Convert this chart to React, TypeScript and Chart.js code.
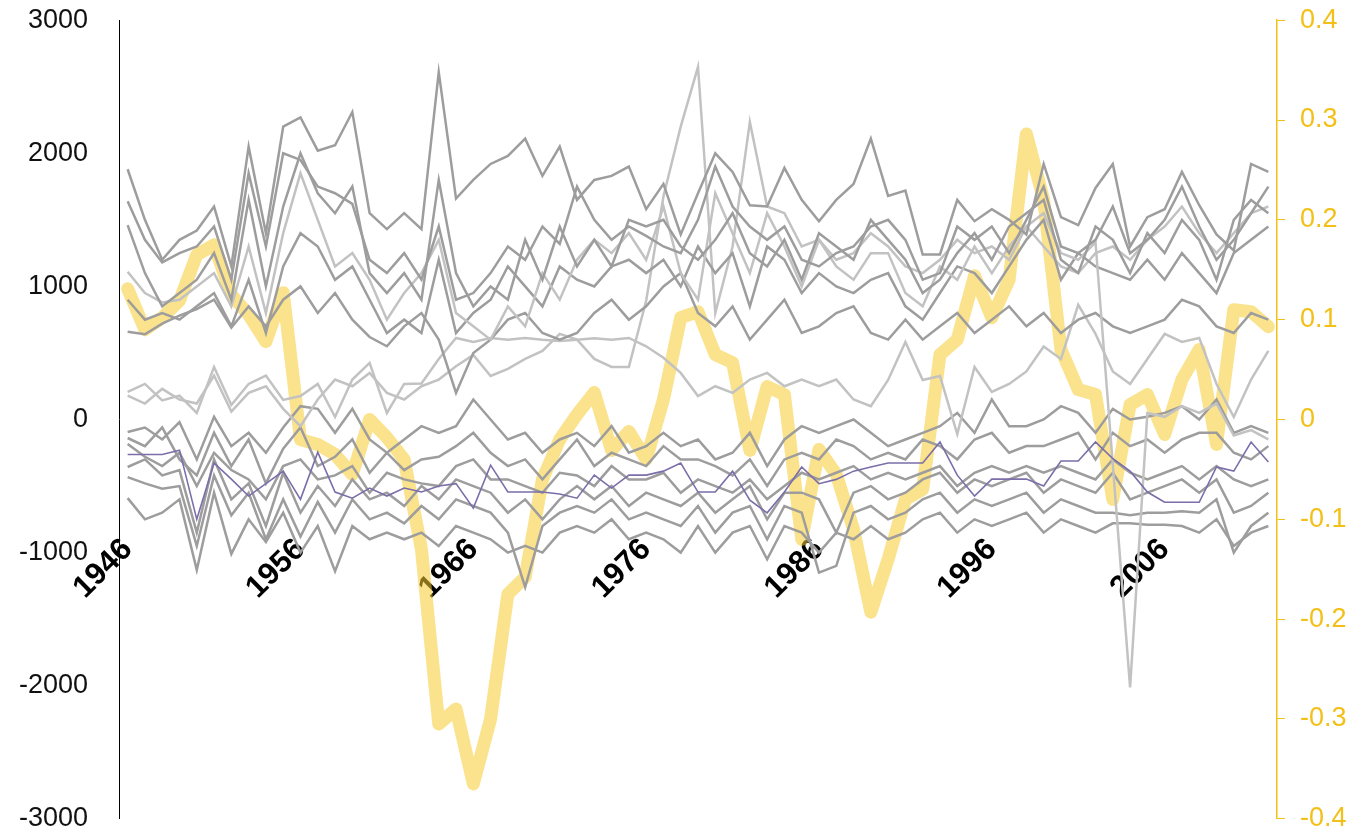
import { useEffect, useRef } from 'react';
import { Chart, registerables } from 'chart.js';

Chart.register(...registerables);

// Years 1946–2012, one point per year
const years: string[] = Array.from({ length: 67 }, (_, i) => String(1946 + i));
const labelledYears = ['1946', '1956', '1966', '1976', '1986', '1996', '2006'];

// Left axis (volumes) and right axis (index) ranges
const leftMin = -3000;
const leftMax = 3000;
const leftStep = 1000;
const rightMin = -0.4;
const rightMax = 0.4;
const rightStep = 0.1;

// Index series plotted on the right axis (thick yellow band)
const indexSeries = [
  0.131, 0.09, 0.102, 0.119, 0.165, 0.175, 0.125, 0.105, 0.078, 0.127,
  -0.02, -0.025, -0.035, -0.055, 0.0, -0.018, -0.04, -0.13, -0.305, -0.29,
  -0.365, -0.3, -0.175, -0.158, -0.06, -0.02, 0.005, 0.027, -0.031, -0.012,
  -0.04, 0.02, 0.102, 0.108, 0.065, 0.057, -0.031, 0.033, 0.025, -0.12,
  -0.03, -0.055, -0.11, -0.193, -0.14, -0.08, -0.07, 0.065, 0.08, 0.144,
  0.102, 0.14, 0.286, 0.22, 0.07, 0.03, 0.025, -0.08, 0.015, 0.025,
  -0.015, 0.04, 0.07, -0.025, 0.11, 0.108, 0.093,
];

// Highlighted series (purple)
const purpleSeries = [
  -263, -263, -263, -230, -750, -327, -448, -575, -482, -388,
  -600, -245, -545, -591, -515, -575, -515, -545, -500, -482,
  -666, -343, -545, -545, -545, -560, -591, -418, -515, -418,
  -418, -388, -327, -545, -545, -388, -606, -701, -545, -357,
  -482, -450, -388, -357, -327, -327, -327, -169, -418, -575,
  -448, -448, -448, -500, -312, -312, -169, -294, -388, -545,
  -622, -622, -622, -357, -388, -169, -320,
];

// Upper group of gray series
const upper1 = [
  1880, 1500, 1200, 1350, 1420, 1600, 1150, 2050, 1400, 2200,
  2270, 2020, 2060, 2310, 1550, 1430, 1550, 1430, 2610, 1660,
  1800, 1920, 1980, 2110, 1830, 2050, 1650, 1800, 1830, 1900,
  1580, 1770, 1390, 1700, 2000, 1860, 1610, 1600, 1890, 1650,
  1490, 1650, 1770, 2110, 1680, 1720, 1240, 1240, 1650, 1490,
  1580, 1500, 1390, 1920, 1520, 1460, 1740, 1920, 1300, 1520,
  1580, 1860, 1610, 1390, 1270, 1920, 1860,
];
const upper2 = [
  1640, 1350, 1180, 1250, 1300, 1450, 1050, 1850, 1300, 2000,
  1950, 1750, 1700, 1620, 1200, 1100, 1250, 1050, 1450, 900,
  950, 1100, 1300, 1200, 1450, 1320, 1750, 1500, 1350, 1450,
  1380, 1300, 1250, 1500, 1900, 1600, 1450, 1350, 1450, 1200,
  1150, 1250, 1300, 1450, 1500, 1350, 1050, 1100, 1450, 1350,
  1450, 1250, 1500, 1750, 1300, 1250, 1350, 1600, 1250, 1350,
  1500, 1750, 1450, 1200, 1350, 1550, 1750,
];
const upper3 = [
  1460, 1100, 850, 950, 1050, 1250, 900, 1650, 1000, 1600,
  2000, 1700, 1550, 1750, 1100, 950, 1100, 900, 1800, 1100,
  850, 1000, 900, 1350, 1050, 1450, 1150, 1350, 1150, 1500,
  1450, 1500, 1300, 1200, 1350, 1550, 1250, 1150, 1350, 1050,
  1400, 1300, 1200, 1500, 1350, 1200, 950, 1050, 1250, 1400,
  1200, 1450, 1550, 1650, 1200, 1100, 1450, 1350, 1100, 1400,
  1250, 1500, 1350, 1050, 1500, 1650, 1550,
];
const upper4 = [
  1110, 950, 880, 900, 1000, 1100, 850, 1300, 800, 1400,
  1850, 1500, 1150, 1250, 1050, 750, 950, 1100, 1350, 800,
  700, 600, 850, 700, 1100, 900, 1200, 1350, 1250, 1400,
  1200, 1600, 1100, 900, 1700, 1400, 1100, 1550, 1300, 1000,
  1350, 1150, 1050, 1250, 1250, 950, 850, 1150, 1050, 1300,
  1100, 1300, 1450, 1550, 1250, 1200, 1330, -340, -2013, 49,
  20, 100, 50, 120, -120, -80, -150,
];
const upper5 = [
  900, 750, 800, 750, 850, 950, 700, 1050, 650, 1150,
  1400, 1300, 1050, 1150, 900, 650, 750, 650, 1200, 650,
  800, 900, 1150, 1000, 850, 1150, 1050, 1000, 1150, 1200,
  1100, 1200, 1000, 1300, 1100, 1250, 850, 1300, 1200, 950,
  1100, 1000, 950, 1050, 1100, 850, 750, 950, 1150, 1100,
  950, 1150, 1350, 1500, 1050, 1250, 1150, 1100, 1050, 1200,
  1050, 1250, 1100, 950, 1250, 1350, 1450,
];
const upper6 = [
  660, 640, 720, 780, 830, 900, 690, 850, 700, 900,
  1000, 800, 950, 750, 620, 550, 700, 800, 600, 200,
  500, 600, 750, 800, 650, 600, 650, 800, 900, 750,
  850, 1000, 1100, 800, 700, 850, 600, 750, 900, 650,
  700, 800, 850, 650, 600, 750, 600, 700, 800, 650,
  750, 850, 700, 800, 650, 750, 800, 700, 650, 700,
  750, 900, 850, 700, 650, 800, 750,
];

// Middle light-gray series
const middle1 = [
  207, 267, 143, 180, 49, 395, 109, 267, 330, 147,
  176, 267, 19, 300, 425, 49, 267, 270, 455, 613,
  583, 613, 600, 613, 600, 590, 600, 610, 600, 613,
  550, 464, 350, 176, 250, 200, 300, 350, 250, 300,
  250, 300, 150, 100, 297, 583, 297, 327, -110, 395,
  207, 267, 361, 549, 455, 862, 643, 361, 267, 455,
  643, 583, 613, 267, 19, 300, 515,
];
const middle2 = [
  180, 120, 230, 150, 120, 330, 60, 200, 250, 80,
  -50, 150, 300, 250, 350, 200, 150, 250, 300, 400,
  485, 327, 380, 455, 515, 643, 600, 455, 395, 395,
  892, 1675, 2200, 2650, 800, 1300, 2236, 1600, 1550, 1300,
  1350, 1200, 1250, 1400, 1300, 1150, 1100, 1200, 1350, 1250,
  1300, 1200, 1450, 1300, 1150, 1100, 1250, 1300, 1200, 1350,
  1450, 1600, 1400, 1250, 1400, 1550, 1600,
];

// Lower group of gray series
const lower1 = [
  -94, -60, -150, -20, -300, 20, -200, -100, -250, -60,
  100, 80, -100, 80, -150, -250, -150, -50, -100, -50,
  150, 0, -150, -100, -250, -150, -100, -200, -50, -250,
  -200, -100, -200, -150, -300, -250, -100, -350, -150, -50,
  -100, -50, 0, -100, -200, -150, -100, -50, 50, -100,
  150, -50, -50, 0, 100, 50, -100, 80, 0, 20,
  50, 100, 0, 150, -100, -50, -100,
];
const lower2 = [
  -139, -200, -60, -300, -420, -100, -350, -150, -480, -220,
  -60, -350, -280, -150, -400, -250, -380, -300, -280, -200,
  -100, -250, -350, -300, -450, -300, -150, -350, -250, -300,
  -350, -200, -300, -300, -350, -420, -300, -500, -300, -250,
  -300, -150, -200, -300, -250, -300, -150, -200, -300, -150,
  -100, -250, -200, -200, -150, -100, -300, -100, -200, -150,
  -250, -150, -100, -100, -250, -300, -200,
];
const lower3 = [
  -184, -280, -350, -250, -500, -250, -380, -450, -600, -350,
  -300, -450, -420, -350, -550, -400, -450, -480, -500, -350,
  -300, -450, -450, -500, -550, -400, -420, -500, -350, -450,
  -450, -400, -550, -450, -500, -550, -450, -600, -500, -400,
  -450, -400, -350, -450, -400, -450, -400, -350, -500, -400,
  -350, -400, -350, -400, -350, -400, -450, -300, -400, -450,
  -400, -350, -450, -350, -450, -500, -450,
];
const lower4 = [
  -357, -300, -420, -380, -850, -300, -600, -480, -800, -400,
  -700, -500, -650, -450, -600, -550, -650, -500, -600, -450,
  -500, -550, -700, -600, -750, -600, -500, -600, -500, -650,
  -550, -600, -650, -550, -700, -600, -500, -750, -550, -550,
  -600, -850, -550, -500, -600, -550, -450, -400, -550, -450,
  -500, -450, -400, -550, -450, -500, -550, -400, -600, -550,
  -500, -450, -550, -450, -700, -650, -550,
];
const lower5 = [
  -433, -480, -520, -500, -950, -420, -720, -550, -900, -600,
  -880, -620, -850, -600, -750, -700, -780, -650, -750, -600,
  -650, -700, -850, -1260, -800, -700, -650, -700, -600, -750,
  -700, -750, -800, -650, -850, -700, -650, -900, -650, -700,
  -1150, -1100, -700, -650, -750, -700, -600, -550, -700, -600,
  -650, -600, -550, -700, -600, -650, -700, -700, -720, -700,
  -700, -690, -700, -600, -1000, -800, -700,
];
const lower6 = [
  -591, -750, -700, -600, -1130, -550, -1010, -750, -920, -700,
  -1000, -800, -1140, -800, -900, -850, -900, -850, -950, -800,
  -850, -900, -1000, -950, -1000, -850, -800, -850, -750, -900,
  -850, -900, -1000, -800, -1000, -850, -800, -1050, -800, -850,
  -1000, -850, -900, -800, -900, -850, -750, -700, -850, -750,
  -800, -750, -700, -850, -750, -800, -850, -780, -780, -790,
  -790, -800, -850, -750, -950, -850, -800,
];

const darkGray = '#9d9d9d';
const lightGray = '#c2c2c2';
const purple = '#7b6ea9';
const bandYellow = 'rgba(248, 202, 45, 0.55)';
const axisGold = '#f2c018';

const graySeries: { data: number[]; color: string }[] = [
  { data: upper1, color: darkGray },
  { data: upper2, color: darkGray },
  { data: upper3, color: darkGray },
  { data: upper4, color: lightGray },
  { data: upper5, color: darkGray },
  { data: upper6, color: darkGray },
  { data: middle1, color: lightGray },
  { data: middle2, color: lightGray },
  { data: lower1, color: darkGray },
  { data: lower2, color: darkGray },
  { data: lower3, color: darkGray },
  { data: lower4, color: darkGray },
  { data: lower5, color: darkGray },
  { data: lower6, color: darkGray },
];

const fontFamily = 'Liberation Sans, Arial, sans-serif';

export default function App() {
  const canvasRef = useRef<HTMLCanvasElement | null>(null);

  useEffect(() => {
    const canvas = canvasRef.current;
    if (!canvas) return;

    const datasets: any[] = graySeries.map((s) => ({
      data: s.data,
      borderColor: s.color,
      borderWidth: 2.5,
      pointRadius: 0,
      tension: 0,
      fill: false,
      yAxisID: 'y',
      order: 1,
    }));
    datasets.push({
      data: purpleSeries,
      borderColor: purple,
      borderWidth: 1.6,
      pointRadius: 0,
      tension: 0,
      fill: false,
      yAxisID: 'y',
      order: 0,
    });
    datasets.push({
      data: indexSeries,
      borderColor: bandYellow,
      borderWidth: 13,
      borderJoinStyle: 'round',
      borderCapStyle: 'round',
      pointRadius: 0,
      tension: 0,
      fill: false,
      yAxisID: 'y2',
      order: 2,
    });

    const chart = new Chart(canvas, {
      type: 'line',
      data: { labels: years, datasets },
      options: {
        responsive: false,
        animation: false,
        layout: { padding: 0 },
        plugins: { legend: { display: false }, tooltip: { enabled: false } },
        scales: {
          x: {
            type: 'category',
            offset: true,
            position: { y: -840 } as any,
            grid: { display: false, drawTicks: false },
            border: { display: false },
            ticks: {
              autoSkip: false,
              maxRotation: 45,
              minRotation: 45,
              padding: 0,
              color: '#000',
              font: { family: fontFamily, size: 31, weight: 'bold' },
              callback: function (this: any, value: any) {
                const label = this.getLabelForValue(value);
                return labelledYears.includes(label) ? label : '';
              },
            },
          },
          y: {
            position: 'left',
            min: leftMin,
            max: leftMax,
            grid: { display: false, drawTicks: false },
            border: { display: true, color: '#000', width: 1 },
            afterFit: (scale: any) => {
              scale.width = 119;
            },
            ticks: {
              stepSize: leftStep,
              padding: 31,
              color: '#111',
              font: { family: fontFamily, size: 27 },
              callback: (v: any) => String(v),
            },
          },
          y2: {
            position: 'right',
            min: rightMin,
            max: rightMax,
            grid: {
              display: true,
              drawOnChartArea: false,
              drawTicks: true,
              tickLength: 8,
              color: axisGold,
              lineWidth: 1,
            },
            border: { display: true, color: axisGold, width: 1.5 },
            afterFit: (scale: any) => {
              scale.width = 80;
            },
            ticks: {
              stepSize: rightStep,
              padding: 15,
              color: axisGold,
              font: { family: fontFamily, size: 27 },
              callback: (v: any) => {
                const n = Math.round(Number(v) * 10) / 10;
                return n === 0 ? '0' : String(n);
              },
            },
          },
        },
      },
    });

    return () => chart.destroy();
  }, []);

  // The canvas is taller than the view and shifted up so the plot spans
  // the full height once the axis label room is reserved.
  return (
    <div
      style={{
        position: 'fixed',
        left: 0,
        top: 0,
        width: 1357,
        height: 832,
        overflow: 'hidden',
        background: '#fff',
      }}
    >
      <canvas
        ref={canvasRef}
        width={1357}
        height={893}
        style={{ display: 'block', position: 'absolute', left: 0, top: -27 }}
      />
    </div>
  );
}
